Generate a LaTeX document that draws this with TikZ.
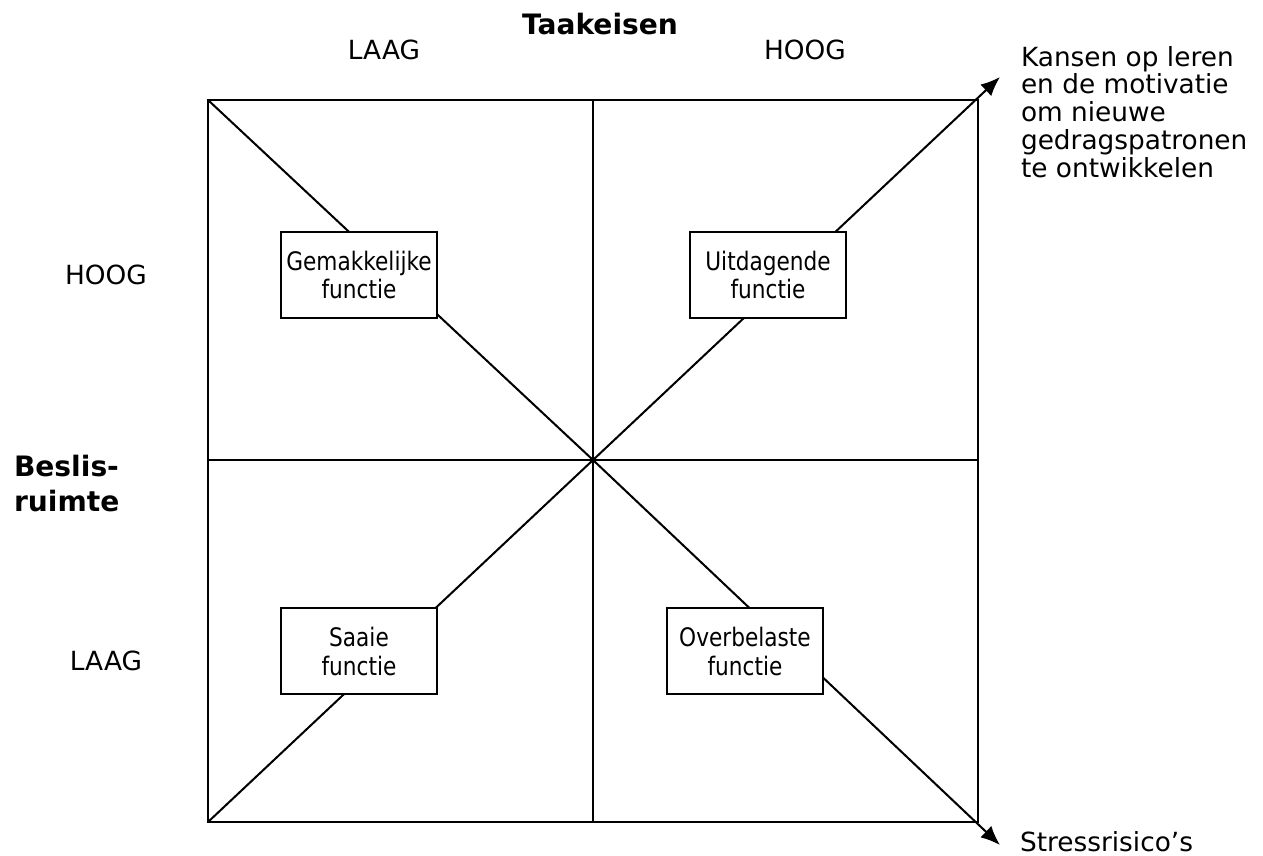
\documentclass[tikz,border=0pt]{standalone}
\usepackage{fontspec}
\setmainfont{DejaVu Sans}
\newfontfamily\boxfont[FakeStretch=0.85]{DejaVu Sans}
\usetikzlibrary{arrows.meta, positioning}

\begin{document}
\begin{tikzpicture}[x=0.02cm, y=-0.02cm, line width=1.15pt,
    every node/.style={font=\fontsize{15}{15.8}\selectfont},
    functionbox/.style={draw, fill=white, minimum width=3.12cm,
                        minimum height=1.72cm, align=center, inner sep=1pt,
                        font=\boxfont\fontsize{14.5}{16.5}\selectfont},
    axistitle/.style={font=\fontsize{16}{19.8}\selectfont\bfseries},
    outcome/.style={-{Latex[length=11pt, width=9pt]}}]
  \useasboundingbox (0,0) rectangle (1263,855);

  % grid
  \coordinate (tl) at (208,100);
  \coordinate (tr) at (978,100);
  \coordinate (bl) at (208,822);
  \coordinate (br) at (978,822);
  \coordinate (c) at (593,460);
  \coordinate (tm) at (593,100);
  \coordinate (bm) at (593,822);
  \coordinate (lm) at (208,460);
  \coordinate (rm) at (978,460);
  \coordinate (upend) at (1000,77);
  \coordinate (downend) at (1000,845);

  \draw (tl) rectangle (br);
  \draw (tm) -- (bm);
  \draw (lm) -- (rm);
  \draw (tl) -- (c) -- (bl);
  \draw[outcome] (c) -- (upend);
  \draw[outcome] (c) -- (downend);

  % quadrants
  \node[functionbox] (easy) at (359,275) {Gemakkelijke\\functie};
  \node[functionbox] (challenge) at (768,275) {Uitdagende\\functie};
  \node[functionbox] (boring) at (359,651) {Saaie\\functie};
  \node[functionbox] (overload) at (745,651) {Overbelaste\\functie};

  % axis labels
  \node[axistitle, anchor=base] (demands) at (600,35) {Taakeisen};
  \node (dlow) at (384,50) {LAAG};
  \node (dhigh) at (805,50) {HOOG};
  \node[axistitle, anchor=north west, align=left, inner sep=0pt] (control)
    at (13,454) {Beslis-\\ruimte};
  \node (chigh) at (106,275) {HOOG};
  \node (clow) at (106,661) {LAAG};

  % outcomes
  \node[anchor=north west, align=left, inner sep=0pt] (learning) at (1020,45)
    {Kansen op leren\\en de motivatie\\om nieuwe\\gedragspatronen\\te ontwikkelen};
  \node[anchor=base west, inner sep=0pt] (stress) at (1019,851) {Stressrisico’s};
\end{tikzpicture}
\end{document}
